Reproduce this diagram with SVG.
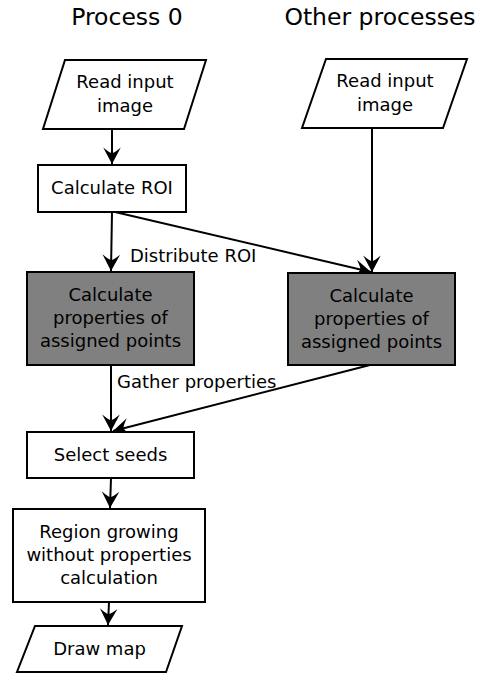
<svg xmlns="http://www.w3.org/2000/svg" width="489" height="675" viewBox="0 0 489 675">
<style>
text{font-family:"DejaVu Sans","Noto Sans",sans-serif;fill:#000;text-anchor:middle}
.t{font-size:23.5px}
.n{font-size:18px}
.l{font-size:18px;text-anchor:start}
.box{fill:#fff;stroke:#000;stroke-width:2}
.gray{fill:#808080;stroke:#000;stroke-width:2}
.c{fill:none;stroke:#000;stroke-width:2}
</style>
<defs>
<marker id="ah" markerUnits="userSpaceOnUse" markerWidth="22" markerHeight="22" viewBox="-17 -10 19 20" refX="0" refY="0" orient="auto">
<path d="M0,0 L-15,-8 Q-10,-2 -10,0 Q-10,2 -15,8 Z" fill="#000"/>
</marker>
</defs>
<rect width="489" height="675" fill="#fff"/>
<g id="titles">
<text class="t" x="127" y="25">Process 0</text>
<text class="t" x="380" y="25">Other processes</text>
</g>
<g id="connectors">
<line class="c" x1="112" y1="129" x2="112" y2="164" marker-end="url(#ah)"/>
<line class="c" x1="112" y1="212" x2="111" y2="271" marker-end="url(#ah)"/>
<line class="c" x1="115" y1="212" x2="371" y2="272" marker-end="url(#ah)"/>
<line class="c" x1="372" y1="128" x2="372" y2="272" marker-end="url(#ah)"/>
<line class="c" x1="111" y1="365" x2="111" y2="431" marker-end="url(#ah)"/>
<line class="c" x1="370" y1="365" x2="113" y2="431" marker-end="url(#ah)"/>
<line class="c" x1="111" y1="478" x2="110" y2="508" marker-end="url(#ah)"/>
<line class="c" x1="109" y1="602" x2="108" y2="625" marker-end="url(#ah)"/>
<text class="l" x="130" y="262">Distribute ROI</text>
<text class="l" x="117" y="388">Gather properties</text>
</g>
<g id="read0">
<polygon class="box" points="65,60 206,60 184,129 43,129"/>
<text class="n" x="125" y="88">Read input</text>
<text class="n" x="125" y="112">image</text>
</g>
<g id="read1">
<polygon class="box" points="326,59 467,59 443,128 302,128"/>
<text class="n" x="385" y="87">Read input</text>
<text class="n" x="385" y="111">image</text>
</g>
<g id="roi">
<rect class="box" x="38" y="165" width="148" height="47"/>
<text class="n" x="112" y="194">Calculate ROI</text>
</g>
<g id="props0">
<rect class="gray" x="27" y="272" width="167" height="93"/>
<text class="n" x="110.5" y="301">Calculate</text>
<text class="n" x="110.5" y="324">properties of</text>
<text class="n" x="110.5" y="347">assigned points</text>
</g>
<g id="props1">
<rect class="gray" x="288" y="273" width="167" height="92"/>
<text class="n" x="371.5" y="302">Calculate</text>
<text class="n" x="371.5" y="325">properties of</text>
<text class="n" x="371.5" y="348">assigned points</text>
</g>
<g id="seeds">
<rect class="box" x="27" y="432" width="167" height="46"/>
<text class="n" x="110.5" y="461">Select seeds</text>
</g>
<g id="grow">
<rect class="box" x="13" y="509" width="192" height="93"/>
<text class="n" x="109" y="538">Region growing</text>
<text class="n" x="109" y="561">without properties</text>
<text class="n" x="109" y="584">calculation</text>
</g>
<g id="draw">
<polygon class="box" points="35,626 182,626 166,672 17,672"/>
<text class="n" x="99.5" y="655">Draw map</text>
</g>
</svg>
